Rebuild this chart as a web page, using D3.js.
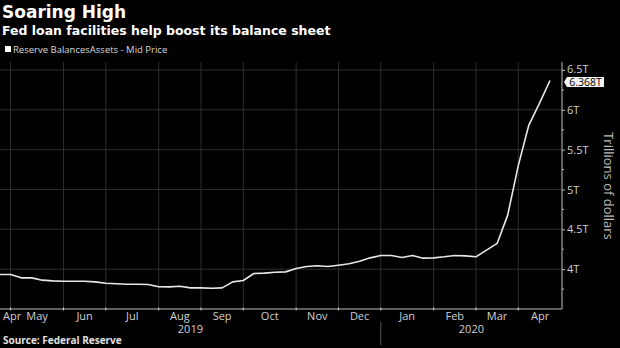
<!DOCTYPE html>
<html>
<head>
<meta charset="utf-8">
<script src="https://cdn.jsdelivr.net/npm/d3@7"></script>
<style>
  html, body { margin: 0; padding: 0; background: #000; }
  svg { display: block; font-family: "Open Sans", "DejaVu Sans", sans-serif; }
</style>
</head>
<body>
<svg id="chart" width="620" height="348"></svg>
<script>
// Weekly Federal Reserve total assets (trillions of dollars), Wednesday levels
const weeks = [
  "2019-04-17","2019-04-24","2019-05-01","2019-05-08","2019-05-15","2019-05-22","2019-05-29",
  "2019-06-05","2019-06-12","2019-06-19","2019-06-26","2019-07-03","2019-07-10","2019-07-17",
  "2019-07-24","2019-07-31","2019-08-07","2019-08-14","2019-08-21","2019-08-28","2019-09-04",
  "2019-09-11","2019-09-18","2019-09-25","2019-10-02","2019-10-09","2019-10-16","2019-10-23",
  "2019-10-30","2019-11-06","2019-11-13","2019-11-20","2019-11-27","2019-12-04","2019-12-11",
  "2019-12-18","2019-12-25","2020-01-01","2020-01-08","2020-01-15","2020-01-22","2020-01-29",
  "2020-02-05","2020-02-12","2020-02-19","2020-02-26","2020-03-04","2020-03-11","2020-03-18",
  "2020-03-25","2020-04-01","2020-04-08","2020-04-15"
];
const assets = [
  3.933, 3.933, 3.891, 3.891, 3.862, 3.853, 3.849,
  3.849, 3.849, 3.840, 3.824, 3.816, 3.810, 3.810,
  3.807, 3.780, 3.778, 3.786, 3.765, 3.765, 3.761,
  3.765, 3.840, 3.858, 3.946, 3.950, 3.962, 3.966,
  4.008, 4.034, 4.042, 4.034, 4.050, 4.067, 4.100,
  4.142, 4.172, 4.172, 4.147, 4.172, 4.138, 4.142,
  4.155, 4.172, 4.167, 4.155, 4.239, 4.323, 4.678,
  5.300, 5.809, 6.080, 6.368
];
const yTicks = [4, 4.5, 5, 5.5, 6, 6.5];
const yTickLabels = ["4T", "4.5T", "5T", "5.5T", "6T", "6.5T"];
const yMinorTicks = [3.75, 4.25, 4.75, 5.25, 5.75, 6.25];
const monthNames = ["Jan","Feb","Mar","Apr","May","Jun","Jul","Aug","Sep","Oct","Nov","Dec"];
const lastValueLabel = "6.368T";

const svg = d3.select("#chart");
const W = 620, H = 348;
const plot = { left: 0, right: 562, top: 62, bottom: 309 };

svg.append("rect").attr("width", W).attr("height", H).attr("fill", "#000");

const parse = d3.utcParse("%Y-%m-%d");
const data = weeks.map((w, i) => ({ i, date: parse(w), value: assets[i] }));

// Index axis: one slot per weekly observation
const x = d3.scaleLinear().domain([0, data.length - 1]).range([0, 550]);
const y = d3.scaleLinear().domain([3.5, 6.6]).range([plot.bottom, plot.top]);

// Group the observations by calendar month
const months = d3.groups(data, d => d.date.getUTCFullYear() + "-" + d.date.getUTCMonth())
  .map(([key, pts]) => ({
    year: pts[0].date.getUTCFullYear(),
    month: pts[0].date.getUTCMonth(),
    first: pts[0].i,
    last: pts[pts.length - 1].i
  }));

// Month boundaries sit on the last weekly reading of each month
const boundaries = months.slice(0, -1).map(m => x(m.last));

const grid = svg.append("g");
grid.selectAll("line.v").data(boundaries).join("line")
  .attr("x1", d => d).attr("x2", d => d)
  .attr("y1", plot.top).attr("y2", plot.bottom)
  .attr("stroke", "#2e2e2e").attr("stroke-width", 1);
grid.selectAll("line.h").data(yTicks).join("line")
  .attr("x1", plot.left).attr("x2", plot.right)
  .attr("y1", d => y(d)).attr("y2", d => y(d))
  .attr("stroke", "#2e2e2e").attr("stroke-width", 1);

// Series line
const line = d3.line().x(d => x(d.i)).y(d => y(d.value));
svg.append("path").datum(data)
  .attr("d", line)
  .attr("fill", "none")
  .attr("stroke", "#e8e8e8")
  .attr("stroke-width", 1.6)
  .attr("stroke-linejoin", "round");

// Right-hand value axis
const yAxis = d3.axisRight(y).tickValues(yTicks)
  .tickFormat((d, i) => yTickLabels[i]).tickSize(3).tickPadding(2);
const ya = svg.append("g").attr("transform", `translate(${plot.right},0)`).call(yAxis);
ya.select(".domain").attr("d", `M0,${plot.top}V${plot.bottom}`).attr("stroke", "#bdbdbd");
ya.selectAll(".tick line").attr("stroke", "#bdbdbd");
ya.selectAll(".tick text").attr("fill", "#d0d0d0").attr("font-size", 11)
  .attr("font-family", "'Open Sans', sans-serif");
ya.selectAll(".tick text").filter(d => d === 6.5).attr("dy", "0.2em");
ya.selectAll("line.minor").data(yMinorTicks).join("line")
  .attr("class", "minor")
  .attr("x1", 0).attr("x2", 2)
  .attr("y1", d => y(d)).attr("y2", d => y(d))
  .attr("stroke", "#bdbdbd");

// Bottom axis line with month boundary ticks
const xa = svg.append("g");
xa.append("line").attr("x1", plot.left).attr("x2", plot.right)
  .attr("y1", plot.bottom).attr("y2", plot.bottom).attr("stroke", "#bdbdbd");
xa.selectAll("line.tk").data(boundaries).join("line")
  .attr("class", "tk")
  .attr("x1", d => d).attr("x2", d => d)
  .attr("y1", plot.bottom - 1.5).attr("y2", plot.bottom + 1.5)
  .attr("stroke", "#d0d0d0");

// Month labels centred in their slot
months.forEach((m, k) => {
  const start = k === 0 ? x(m.first - 1) : boundaries[k - 1];
  const end = k === months.length - 1 ? plot.right : boundaries[k];
  const t = xa.append("text")
    .attr("y", 320)
    .attr("text-anchor", "middle")
    .attr("fill", "#d0d0d0")
    .attr("font-size", 11)
    .text(monthNames[m.month]);
  const w = t.node().getComputedTextLength();
  t.attr("x", Math.max((start + end) / 2, plot.left + 3 + w / 2));
});

// Year labels and separator
const yearSplit = x(months.find(m => m.year === 2019 && m.month === 11).last);
xa.append("line").attr("x1", yearSplit).attr("x2", yearSplit)
  .attr("y1", 322).attr("y2", 345).attr("stroke", "#555");
[[2019, plot.left, yearSplit], [2020, yearSplit, plot.right]].forEach(([yr, a, b]) => {
  xa.append("text").attr("x", (a + b) / 2).attr("y", 333)
    .attr("text-anchor", "middle").attr("fill", "#d0d0d0").attr("font-size", 11)
    .text(yr);
});

// Axis title
svg.append("text")
  .attr("transform", `translate(604,186) rotate(90)`)
  .attr("text-anchor", "middle")
  .attr("fill", "#bdbdbd")
  .attr("font-size", 13)
  .text("Trillions of dollars");

// Last value tag
const last = data[data.length - 1];
const ty = y(last.value) + 1.5;
const tag = svg.append("g").attr("transform", `translate(${plot.right + 2},${ty})`);
tag.append("path")
  .attr("d", "M0,0 L3,-5 H40 V5 H3 Z")
  .attr("fill", "#f2f2f2");
tag.append("text").attr("x", 21.5).attr("y", 4)
  .attr("text-anchor", "middle").attr("fill", "#000").attr("font-size", 10.5)
  .text(lastValueLabel);

// Titles, legend, source
svg.append("text").attr("x", 2).attr("y", 18)
  .attr("fill", "#fff").attr("font-size", 17).attr("font-weight", 700)
  .attr("font-family", "'DejaVu Sans', sans-serif")
  .text("Soaring High");
svg.append("text").attr("x", 2).attr("y", 35)
  .attr("fill", "#fff").attr("font-size", 12.5).attr("font-weight", 700)
  .attr("font-family", "'DejaVu Sans', sans-serif")
  .text("Fed loan facilities help boost its balance sheet");
svg.append("rect").attr("x", 5).attr("y", 46).attr("width", 6).attr("height", 6).attr("fill", "#fff");
svg.append("text").attr("x", 13).attr("y", 53)
  .attr("fill", "#d8d8d8").attr("font-size", 9.5)
  .text("Reserve BalancesAssets - Mid Price");
svg.append("text").attr("x", 3).attr("y", 344)
  .attr("fill", "#e0e0e0").attr("font-size", 10).attr("font-weight", 700)
  .text("Source: Federal Reserve");
</script>
</body>
</html>
